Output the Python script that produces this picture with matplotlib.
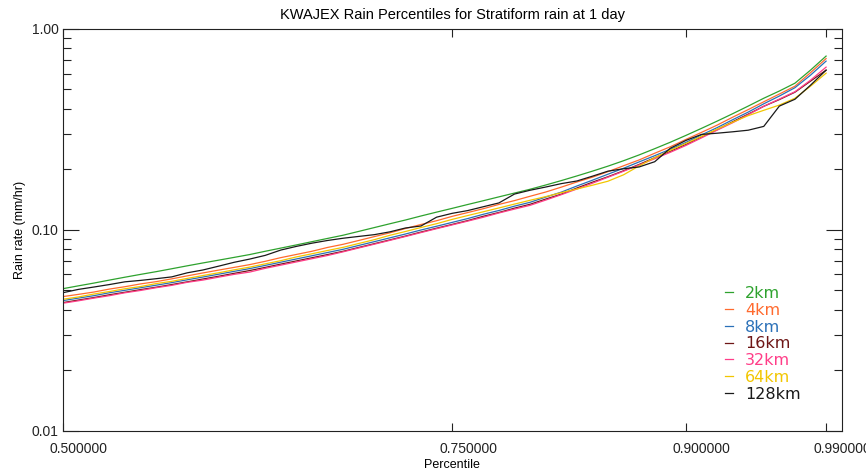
import matplotlib
matplotlib.use("Agg")
import matplotlib.pyplot as plt
import matplotlib.transforms as mtransforms
import numpy as np

plt.rcParams['font.family'] = ['Liberation Sans', 'DejaVu Sans']

# percentile levels (0.50 .. 0.99)
percentiles = [0.50, 0.51, 0.52, 0.53, 0.54, 0.55, 0.56, 0.57, 0.58, 0.59,
               0.60, 0.61, 0.62, 0.63, 0.64, 0.65, 0.66, 0.67, 0.68, 0.69,
               0.70, 0.71, 0.72, 0.73, 0.74, 0.75, 0.76, 0.77, 0.78, 0.79,
               0.80, 0.81, 0.82, 0.83, 0.84, 0.85, 0.86, 0.87, 0.88, 0.89,
               0.90, 0.91, 0.92, 0.93, 0.94, 0.95, 0.96, 0.97, 0.98, 0.99]

# rain rate (mm/hr) at each percentile, one list per averaging scale
rate_2km = [0.0509, 0.0526, 0.0543, 0.0562, 0.0581, 0.0600, 0.0619, 0.0640, 0.0662, 0.0684,
            0.0706, 0.0729, 0.0753, 0.0782, 0.0811, 0.0841, 0.0873, 0.0906, 0.0940, 0.0982,
            0.1026, 0.1072, 0.1119, 0.1172, 0.1225, 0.1279, 0.1337, 0.1396, 0.1459, 0.1524,
            0.1592, 0.1671, 0.1758, 0.1854, 0.1959, 0.2075, 0.2208, 0.2360, 0.2535, 0.2729,
            0.2951, 0.3199, 0.3475, 0.3784, 0.4130, 0.4519, 0.4909, 0.5370, 0.6237, 0.7328]
rate_4km = [0.0465, 0.0477, 0.0490, 0.0507, 0.0521, 0.0538, 0.0552, 0.0570, 0.0590, 0.0610,
            0.0630, 0.0650, 0.0671, 0.0697, 0.0727, 0.0754, 0.0782, 0.0817, 0.0847, 0.0885,
            0.0925, 0.0966, 0.1015, 0.1063, 0.1110, 0.1167, 0.1219, 0.1274, 0.1338, 0.1398,
            0.1469, 0.1542, 0.1631, 0.1730, 0.1828, 0.1948, 0.2084, 0.2228, 0.2406, 0.2591,
            0.2818, 0.3055, 0.3319, 0.3635, 0.3967, 0.4340, 0.4742, 0.5188, 0.6060, 0.7120]
rate_8km = [0.0444, 0.0457, 0.0470, 0.0486, 0.0500, 0.0515, 0.0530, 0.0546, 0.0564, 0.0582,
            0.0601, 0.0621, 0.0641, 0.0665, 0.0690, 0.0716, 0.0743, 0.0771, 0.0800, 0.0836,
            0.0873, 0.0912, 0.0953, 0.0998, 0.1042, 0.1089, 0.1138, 0.1195, 0.1248, 0.1312,
            0.1371, 0.1455, 0.1540, 0.1652, 0.1766, 0.1892, 0.2025, 0.2178, 0.2339, 0.2518,
            0.2723, 0.2968, 0.3225, 0.3532, 0.3855, 0.4241, 0.4634, 0.5099, 0.5888, 0.6918]
rate_16km = [0.0434, 0.0447, 0.0460, 0.0475, 0.0489, 0.0504, 0.0518, 0.0534, 0.0551, 0.0569,
             0.0587, 0.0607, 0.0627, 0.0650, 0.0675, 0.0700, 0.0726, 0.0753, 0.0782, 0.0817,
             0.0853, 0.0891, 0.0931, 0.0975, 0.1019, 0.1064, 0.1112, 0.1168, 0.1220, 0.1282,
             0.1340, 0.1422, 0.1505, 0.1614, 0.1726, 0.1838, 0.1968, 0.2116, 0.2286, 0.2460,
             0.2661, 0.2901, 0.3151, 0.3451, 0.3767, 0.4121, 0.4450, 0.4842, 0.5495, 0.6237]
rate_32km = [0.0431, 0.0443, 0.0457, 0.0470, 0.0486, 0.0499, 0.0515, 0.0529, 0.0548, 0.0562,
             0.0581, 0.0600, 0.0616, 0.0643, 0.0667, 0.0692, 0.0718, 0.0745, 0.0777, 0.0812,
             0.0848, 0.0886, 0.0926, 0.0969, 0.1013, 0.1058, 0.1105, 0.1155, 0.1213, 0.1268,
             0.1324, 0.1406, 0.1496, 0.1596, 0.1706, 0.1828, 0.1957, 0.2104, 0.2259, 0.2432,
             0.2630, 0.2868, 0.3133, 0.3412, 0.3745, 0.4121, 0.4477, 0.4870, 0.5559, 0.6457]
rate_64km = [0.0451, 0.0463, 0.0479, 0.0493, 0.0509, 0.0522, 0.0540, 0.0554, 0.0573, 0.0592,
             0.0611, 0.0632, 0.0652, 0.0677, 0.0702, 0.0733, 0.0760, 0.0789, 0.0818, 0.0855,
             0.0893, 0.0939, 0.0981, 0.1027, 0.1073, 0.1127, 0.1178, 0.1230, 0.1285, 0.1343,
             0.1403, 0.1463, 0.1531, 0.1596, 0.1667, 0.1746, 0.1879, 0.2080, 0.2286, 0.2489,
             0.2692, 0.2917, 0.3170, 0.3431, 0.3702, 0.3936, 0.4178, 0.4519, 0.5188, 0.6026]
rate_128km = [0.0486, 0.0505, 0.0519, 0.0534, 0.0551, 0.0560, 0.0571, 0.0583, 0.0611, 0.0631,
              0.0659, 0.0689, 0.0715, 0.0746, 0.0793, 0.0827, 0.0858, 0.0885, 0.0908, 0.0927,
              0.0946, 0.0977, 0.1021, 0.1045, 0.1156, 0.1208, 0.1247, 0.1303, 0.1361, 0.1507,
              0.1574, 0.1633, 0.1698, 0.1750, 0.1849, 0.1959, 0.2014, 0.2056, 0.2183, 0.2547,
              0.2786, 0.2985, 0.3027, 0.3076, 0.3133, 0.3273, 0.4130, 0.4467, 0.5248, 0.6237]

labels = ['2km', '4km', '8km', '16km', '32km', '64km', '128km']
series = [rate_2km, rate_4km, rate_8km, rate_16km, rate_32km, rate_64km, rate_128km]
colors = ['#2ea22e', '#ff6a2e', '#2a70b8', '#6e1616', '#ff3d88', '#f2c600', '#1a1a1a']

xticks = [0.5, 0.75, 0.9, 0.99]
xticklabels = ['0.500000', '0.750000', '0.900000', '0.990000']
yticks = [0.01, 0.1, 1.0]
yticklabels = ['0.01', '0.10', '1.00']

fig = plt.figure(figsize=(8.66, 4.74), dpi=100)
ax = fig.add_axes([0.0724, 0.0914, 0.8995, 0.8475])

for vals, lab, col in zip(series, labels, colors):
    ax.plot(percentiles, vals, color=col, lw=0.9, label=lab)

ax.set_yscale('log')
ax.set_xlim(0.5, 1.0)
ax.set_ylim(0.01, 1.0)

ax.set_xticks(xticks)
ax.set_xticklabels(xticklabels)
ax.set_yticks(yticks)
ax.set_yticklabels(yticklabels)
ax.xaxis.set_minor_locator(matplotlib.ticker.NullLocator())
ax.yaxis.set_minor_locator(matplotlib.ticker.LogLocator(base=10, subs=np.arange(2, 10)))
ax.yaxis.set_minor_formatter(matplotlib.ticker.NullFormatter())

ax.tick_params(axis='both', which='both', direction='in', top=True, right=True,
               colors='#222222', width=0.8, labelsize=10)
ax.tick_params(axis='x', which='major', length=6, pad=8)
ax.tick_params(axis='y', which='major', length=11.5, pad=3)
ax.tick_params(axis='y', which='minor', length=6)
for sp in ax.spines.values():
    sp.set_color('#222222')
    sp.set_linewidth(0.8)

# x labels sit a little right of their ticks
shift = mtransforms.ScaledTranslation(16 / 100, 0, fig.dpi_scale_trans)
for lbl in ax.get_xticklabels():
    lbl.set_transform(lbl.get_transform() + shift)

ax.set_title('KWAJEX Rain Percentiles for Stratiform rain at 1 day', fontsize=10.5, pad=7)
ax.set_xlabel('Percentile', fontsize=9, labelpad=2)
ax.set_ylabel('Rain rate (mm/hr)', fontsize=9, labelpad=4)

leg = ax.legend(loc='upper left', bbox_to_anchor=(0.85, 0.36), frameon=False,
                handlelength=0.5, handletextpad=0.75, labelspacing=0.11,
                borderpad=0, borderaxespad=0, labelcolor='linecolor',
                prop={'family': 'DejaVu Sans', 'size': 11.5})

fig.savefig('out.png', dpi=100)
